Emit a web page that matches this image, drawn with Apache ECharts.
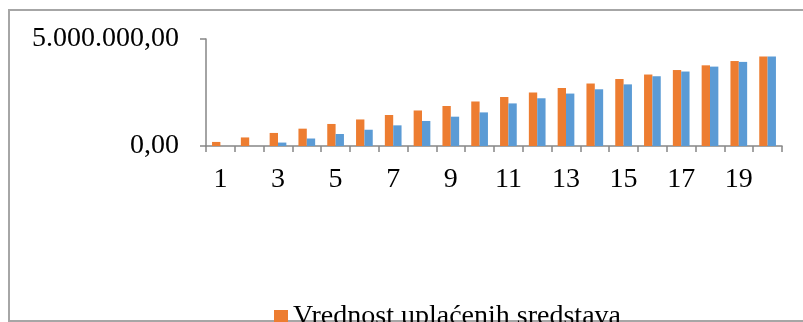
<!DOCTYPE html>
<html><head><meta charset="utf-8">
<script src="https://cdn.jsdelivr.net/npm/echarts@6/dist/echarts.min.js"></script>
<style>html,body{margin:0;padding:0;background:#fff}#c{width:803px;height:322px}</style>
</head><body><div id="c"></div>
<script>
var categories = ['1','2','3','4','5','6','7','8','9','10','11','12','13','14','15','16','17','18','19','20'];
var uplacenaSredstva = [190000,400000,610000,810000,1030000,1240000,1450000,1660000,1870000,2080000,2290000,2500000,2710000,2920000,3130000,3340000,3550000,3770000,3970000,4180000];
var vrednostFonda = [0,0,160000,350000,560000,760000,965000,1170000,1370000,1570000,1990000,2230000,2450000,2650000,2880000,3260000,3480000,3710000,3930000,4180000];
var yTicks = [0, 5000000];
var seriesNames = ['Vrednost uplaćenih sredstava', 'Vrednost fonda'];

function fmt(v){
  var s = Math.round(v).toString().replace(/\B(?=(\d{3})+(?!\d))/g, '.');
  return s + ',00';
}
var font = 'Liberation Serif';
var chart = echarts.init(document.getElementById('c'), null, {renderer:'canvas'});
chart.setOption({
  animation:false,
  backgroundColor:'#fff',
  graphic:[{type:'rect',shape:{x:9,y:10,width:820,height:311},style:{fill:'none',stroke:'#a6a6a6',lineWidth:2},z:0,silent:true}],
  grid:{left:206,right:21,top:39,bottom:176,containLabel:false},
  legend:{data:[seriesNames[0]],left:269,top:298,icon:'rect',itemWidth:14,itemHeight:14,itemGap:10,
    textStyle:{fontFamily:font,fontSize:28,color:'#000'}},
  xAxis:{type:'category',data:categories,boundaryGap:true,
    axisLine:{lineStyle:{color:'#868686',width:1.5}},
    axisTick:{show:true,alignWithLabel:false,interval:0,length:6,lineStyle:{color:'#868686',width:1.5}},
    axisLabel:{interval:1,margin:20,fontFamily:font,fontSize:28,color:'#000'},
    splitLine:{show:false}},
  yAxis:{type:'value',min:0,max:5000000,interval:5000000,
    axisLine:{show:true,lineStyle:{color:'#868686',width:1.5}},
    axisTick:{show:true,length:6,lineStyle:{color:'#868686',width:1.5}},
    axisLabel:{margin:27,fontFamily:font,fontSize:28,color:'#000',formatter:function(v){return fmt(v);}},
    splitLine:{show:false}},
  series:[
    {name:seriesNames[0],type:'bar',data:uplacenaSredstva,barWidth:'29%',barGap:'0%',itemStyle:{color:'#ED7D31'}},
    {name:seriesNames[1],type:'bar',data:vrednostFonda,barWidth:'29%',barGap:'0%',itemStyle:{color:'#5B9BD5'}}
  ]
});
</script></body></html>
